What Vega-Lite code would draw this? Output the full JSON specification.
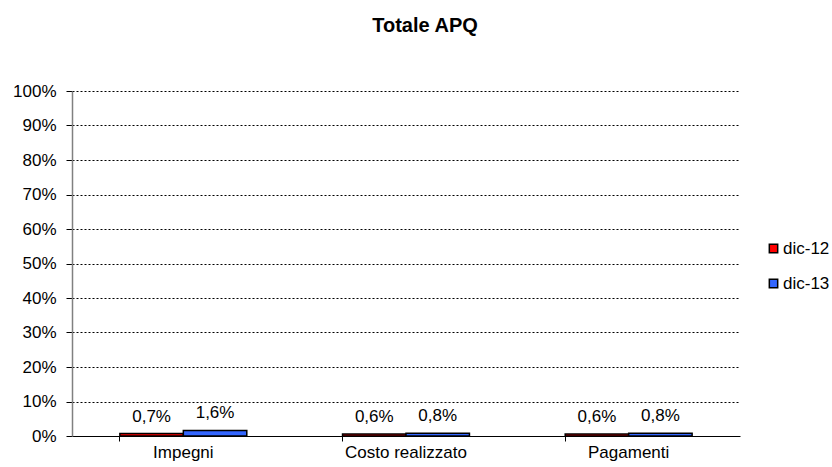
{
  "$schema": "https://vega.github.io/schema/vega-lite/v6.json",
  "width": 668,
  "height": 345,
  "autosize": {"type": "none"},
  "padding": {"left": 72, "top": 91, "right": 92, "bottom": 31},
  "background": "white",
  "config": {
    "locale": {"number": {"decimal": ",", "thousands": ".", "grouping": [3], "currency": ["", " €"]}},
    "font": "Liberation Sans",
    "view": {"stroke": null}
  },
  "title": {"text": "Totale APQ", "fontSize": 20, "fontWeight": "bold", "font": "Liberation Sans", "color": "black", "anchor": "middle", "offset": 46, "dx": 19},
  "data": {
    "values": [
      {"categoria": "Impegni", "periodo": "dic-12", "valore": 0.007},
      {"categoria": "Impegni", "periodo": "dic-13", "valore": 0.016},
      {"categoria": "Costo realizzato", "periodo": "dic-12", "valore": 0.006},
      {"categoria": "Costo realizzato", "periodo": "dic-13", "valore": 0.008},
      {"categoria": "Pagamenti", "periodo": "dic-12", "valore": 0.006},
      {"categoria": "Pagamenti", "periodo": "dic-13", "valore": 0.008}
    ]
  },
  "encoding": {
    "x": {
      "field": "categoria", "type": "nominal", "sort": ["Impegni", "Costo realizzato", "Pagamenti"],
      "scale": {"paddingInner": 0.43, "paddingOuter": 0.215},
      "axis": {"title": null, "labelAngle": 0, "labelFontSize": 17, "labelColor": "black", "labelPadding": 3,
               "domainColor": "black", "domainWidth": 1, "tickColor": "black", "tickSize": 5, "bandPosition": 0, "grid": false}
    },
    "xOffset": {"field": "periodo", "type": "nominal", "sort": ["dic-12", "dic-13"], "scale": {"paddingInner": 0, "paddingOuter": 0}},
    "y": {
      "field": "valore", "type": "quantitative",
      "scale": {"domain": [0, 1], "nice": false},
      "axis": {"title": null, "format": ".0%", "values": [0, 0.1, 0.2, 0.3, 0.4, 0.5, 0.6, 0.7, 0.8, 0.9, 1],
               "labelFontSize": 17, "labelColor": "black", "labelPadding": 10,
               "domainColor": "#808080", "domainWidth": 1.5, "tickColor": "black", "tickSize": 6,
               "grid": true, "gridColor": "black", "gridDash": [2, 2], "gridWidth": 1}
    }
  },
  "layer": [
    {
      "mark": {"type": "bar", "stroke": "black", "strokeWidth": 1.5},
      "encoding": {
        "color": {
          "field": "periodo", "type": "nominal",
          "scale": {"domain": ["dic-12", "dic-13"], "range": ["#FF0000", "#3366FF"]},
          "legend": {"title": null, "orient": "none", "legendX": 693, "legendY": 149, "symbolType": "square",
                     "symbolSize": 70, "symbolStrokeColor": "black", "symbolStrokeWidth": 1.5,
                     "labelFontSize": 17, "labelColor": "black", "rowPadding": 17, "labelOffset": 1}
        }
      }
    },
    {
      "mark": {"type": "text", "fontSize": 17, "color": "black", "baseline": "alphabetic", "dy": -12},
      "encoding": {"text": {"field": "valore", "type": "quantitative", "format": ".1%"}}
    }
  ]
}
